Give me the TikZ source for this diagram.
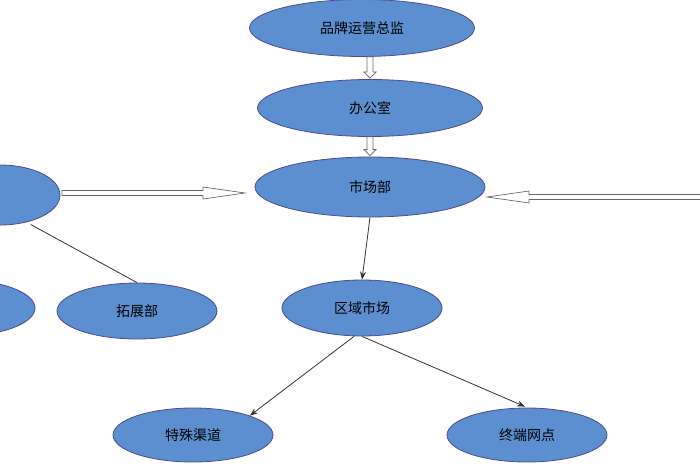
\documentclass[tikz,border=0pt]{standalone}
\usepackage{fontspec}
\newfontfamily\cjk{Noto Sans CJK SC}
\usetikzlibrary{shapes.geometric,arrows.meta,calc}
\begin{document}
\begin{tikzpicture}[x=1pt,y=-1pt,
  ell/.style={ellipse,draw=blue!40!black!70,line width=0.8pt,fill={rgb,255:red,91;green,143;blue,208},minimum width=#1,font=\cjk\fontsize{14}{16}\selectfont,text=black,inner sep=0pt},
  ell/.default=160,
  hollow/.style={draw=black!60,fill=white,line width=0.7pt},
  con/.style={draw=black!80,line width=0.8pt},
  arr/.style={con,-{Stealth[length=8pt,width=6pt]}}]
\useasboundingbox (0,0) rectangle (700,470);
\clip (0,0) rectangle (700,470);
\node[ell=225,minimum height=57] (ceo) at (362,28) {品牌运营总监};
\node[ell=225,minimum height=57] (off) at (370,108) {办公室};
\node[ell=230,minimum height=60] (mkt) at (370,187) {市场部};
\node[ell=120,minimum height=60] (lft) at (0,195) {};
\node[ell=160,minimum height=56] (tz) at (137,311) {拓展部};
\node[ell=150,minimum height=56] (lb) at (-40,308) {};
\node[ell=160,minimum height=56] (qy) at (362,308) {区域市场};
\node[ell=160,minimum height=54] (ts) at (193,435) {特殊渠道};
\node[ell=160,minimum height=54] (zd) at (527,435) {终端网点};
% small hollow arrows
\foreach \a/\b in {ceo/off,off/mkt}{
  \path let \p1=(\a.south), \p2=(\b.north) in
   coordinate (s) at (\x2,\y1) coordinate (e) at (\x2,\y2);
  \draw[hollow] ($(s)+(-3,0)$) -- ($(e)+(-3,-7)$) -- ($(e)+(-6,-7)$) -- ($(e)+(0,-1)$)
     -- ($(e)+(6,-7)$) -- ($(e)+(3,-7)$) -- ($(s)+(3,0)$) -- cycle;
}
% long hollow arrows
\coordinate (ls) at (62,193); \coordinate (le) at (245,193);
\draw[hollow] ($(ls)+(0,-2.5)$) -- ($(le)+(-42,-2.5)$) -- ($(le)+(-42,-6)$) -- (le)
  -- ($(le)+(-42,6)$) -- ($(le)+(-42,2.5)$) -- ($(ls)+(0,2.5)$) -- cycle;
\coordinate (rs) at (702,197); \coordinate (re) at (487,197);
\draw[hollow] ($(rs)+(0,-2.5)$) -- ($(re)+(42,-2.5)$) -- ($(re)+(42,-6)$) -- (re)
  -- ($(re)+(42,6)$) -- ($(re)+(42,2.5)$) -- ($(rs)+(0,2.5)$) -- cycle;
% connectors
\draw[con] (lft.south east) ++(-12,8) coordinate (lc) (lc) -- (tz.north);
\draw[arr] (mkt.south) -- (qy.north);
\draw[arr] ($(qy.south)+(-8,0)$) -- (ts.north east);
\draw[arr] (qy.south) -- ($(zd.north)+(-2,-1)$);
\end{tikzpicture}
\end{document}
